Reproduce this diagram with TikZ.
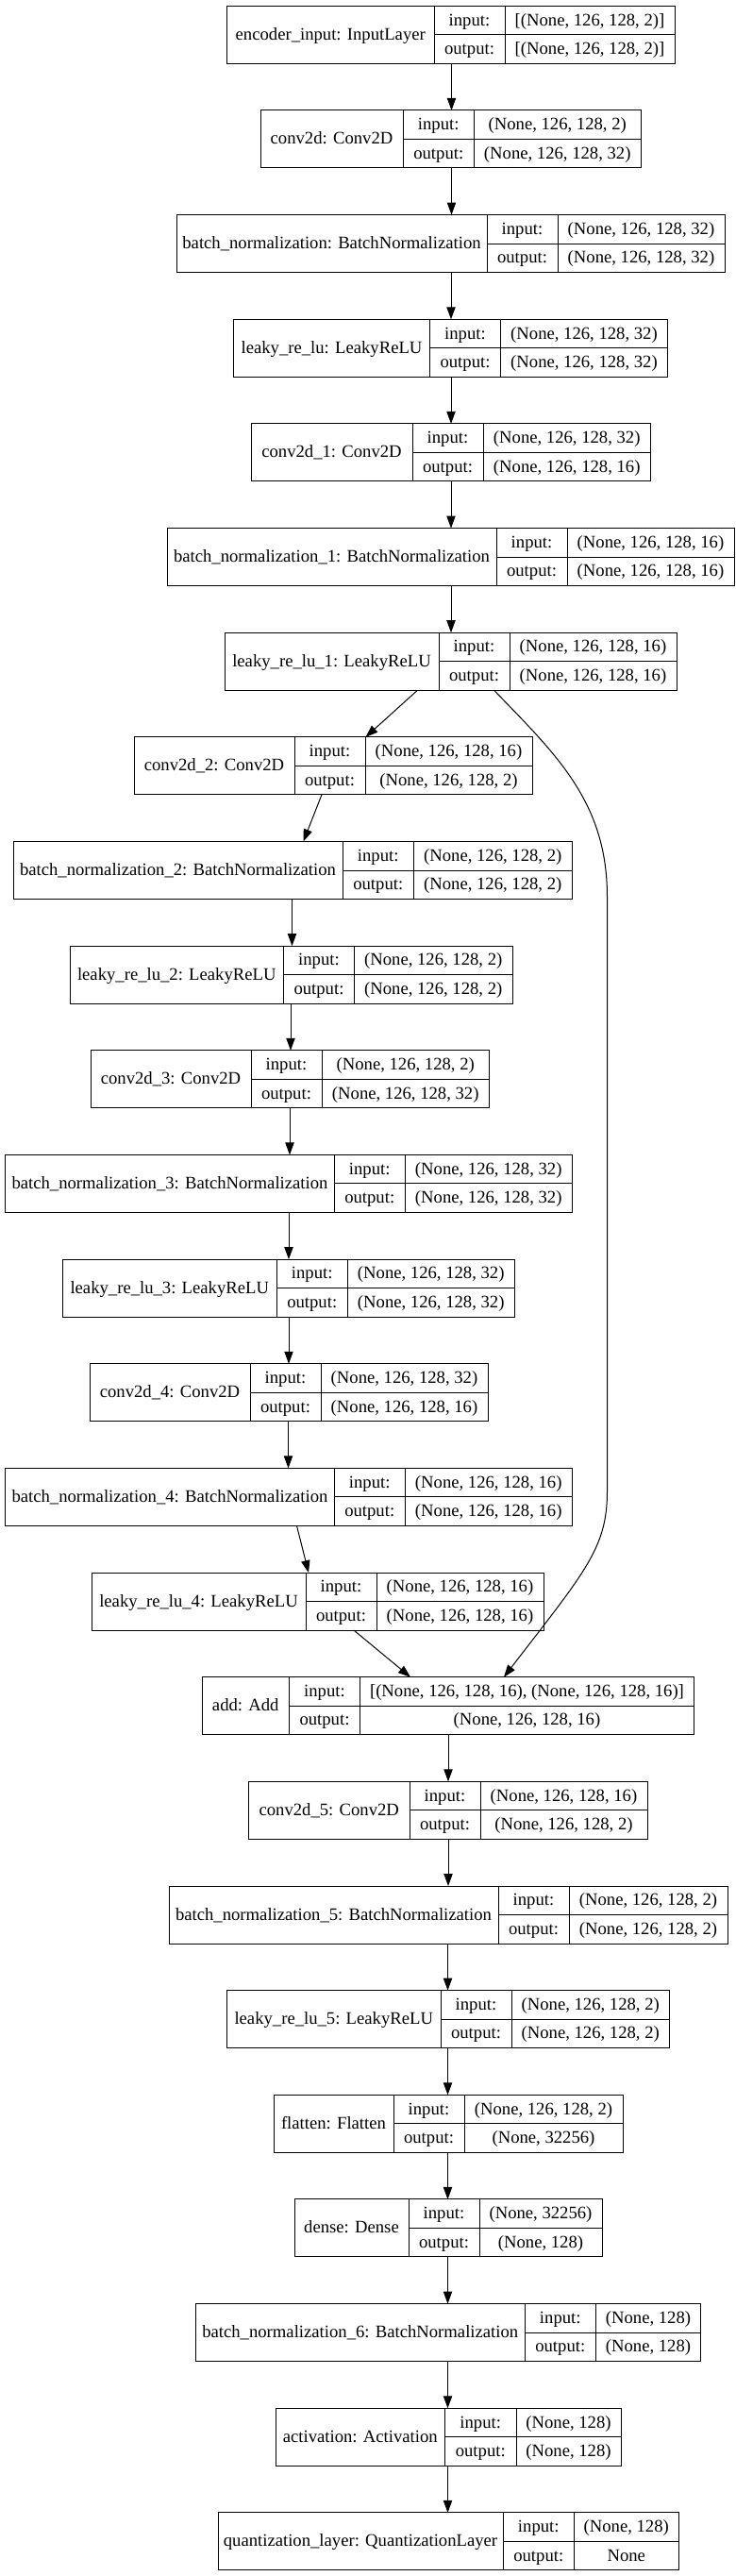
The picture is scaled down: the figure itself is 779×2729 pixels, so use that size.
\documentclass[tikz,border=0pt]{standalone}
\usepackage{fontspec}
\setmainfont{Liberation Serif}
\usetikzlibrary{arrows.meta,calc}
\tikzset{
  box/.style={draw, line width=1pt, inner sep=0pt, outer sep=0pt, minimum height=61pt, rectangle},
  sep/.style={line width=1pt},
  lbl/.style={inner sep=0pt, anchor=base, font=\fontsize{18.67}{20}\selectfont},
  arr/.style={line width=1pt, -{Triangle[length=13pt,width=9.3pt]}},
}
\newcommand\mylayer[8]{%
  \pgfmathsetmacro\lyT{6.3+110.65*(#1-1)}%
  \pgfmathsetmacro\lyB{\lyT+61}%
  \pgfmathsetmacro\lyM{\lyT+30.5}%
  \pgfmathsetmacro\lyW{#5-#2}%
  \pgfmathsetmacro\lyNx{(#2+#3)/2}%
  \pgfmathsetmacro\lyIx{(#3+#4)/2}%
  \pgfmathsetmacro\lyVx{(#4+#5)/2}%
  \pgfmathsetmacro\lyRa{\lyT+15.25+5.5}%
  \pgfmathsetmacro\lyRb{\lyT+45.75+5.5}%
  \pgfmathsetmacro\lyRn{\lyT+30.5+5.5}%
  \expandafter\xdef\csname lx#1\endcsname{#2}%
  \node[box, minimum width=\lyW pt, anchor=north west] (L#1) at (#2,\lyT) {};
  \draw[sep] (#3,\lyT) -- (#3,\lyB);
  \draw[sep] (#4,\lyT) -- (#4,\lyB);
  \draw[sep] (#3,\lyM) -- (#5,\lyM);
  \node[lbl] (L#1n) at (\lyNx,\lyRn) {#6};
  \node[lbl] (L#1i) at (\lyIx,\lyRa) {input:};
  \node[lbl] (L#1o) at (\lyIx,\lyRb) {output:};
  \node[lbl] (L#1a) at (\lyVx,\lyRa) {#7};
  \node[lbl] (L#1b) at (\lyVx,\lyRb) {#8};
}
\newcommand\myedge[4]{%
  \draw[arr] ($(L#1.south west)+({#2-\csname lx#1\endcsname},0)$) -- ($(L#3.north west)+({#4-\csname lx#3\endcsname},0)$);
}
\begin{document}
\begin{tikzpicture}[x=1pt,y=-1pt]
\useasboundingbox (0,0) rectangle (779,2729);
\mylayer{1}{240.5}{460}{535}{715}{encoder\_input: InputLayer}{[(None, 126, 128, 2)]}{[(None, 126, 128, 2)]}
\mylayer{2}{276}{427}{502.5}{679}{conv2d: Conv2D}{(None, 126, 128, 2)}{(None, 126, 128, 32)}
\mylayer{3}{187}{516}{591}{768}{batch\_normalization: BatchNormalization}{(None, 126, 128, 32)}{(None, 126, 128, 32)}
\mylayer{4}{247.5}{455.5}{530.5}{707.5}{leaky\_re\_lu: LeakyReLU}{(None, 126, 128, 32)}{(None, 126, 128, 32)}
\mylayer{5}{266}{437}{512}{689.5}{conv2d\_1: Conv2D}{(None, 126, 128, 32)}{(None, 126, 128, 16)}
\mylayer{6}{177}{526}{601}{778}{batch\_normalization\_1: BatchNormalization}{(None, 126, 128, 16)}{(None, 126, 128, 16)}
\mylayer{7}{238}{465}{540}{717}{leaky\_re\_lu\_1: LeakyReLU}{(None, 126, 128, 16)}{(None, 126, 128, 16)}
\mylayer{8}{142}{312}{387}{564}{conv2d\_2: Conv2D}{(None, 126, 128, 16)}{(None, 126, 128, 2)}
\mylayer{9}{14}{363}{438.5}{606}{batch\_normalization\_2: BatchNormalization}{(None, 126, 128, 2)}{(None, 126, 128, 2)}
\mylayer{10}{74}{300.5}{375.5}{543}{leaky\_re\_lu\_2: LeakyReLU}{(None, 126, 128, 2)}{(None, 126, 128, 2)}
\mylayer{11}{96}{266}{341}{518.5}{conv2d\_3: Conv2D}{(None, 126, 128, 2)}{(None, 126, 128, 32)}
\mylayer{12}{5.5}{354.5}{429}{606.5}{batch\_normalization\_3: BatchNormalization}{(None, 126, 128, 32)}{(None, 126, 128, 32)}
\mylayer{13}{66.5}{293}{368.5}{545}{leaky\_re\_lu\_3: LeakyReLU}{(None, 126, 128, 32)}{(None, 126, 128, 32)}
\mylayer{14}{95}{265}{340}{517}{conv2d\_4: Conv2D}{(None, 126, 128, 32)}{(None, 126, 128, 16)}
\mylayer{15}{5.5}{354.5}{429}{606.5}{batch\_normalization\_4: BatchNormalization}{(None, 126, 128, 16)}{(None, 126, 128, 16)}
\mylayer{16}{97}{324}{399}{576}{leaky\_re\_lu\_4: LeakyReLU}{(None, 126, 128, 16)}{(None, 126, 128, 16)}
\mylayer{17}{214}{306.5}{381.5}{735.5}{add: Add}{[(None, 126, 128, 16), (None, 126, 128, 16)]}{(None, 126, 128, 16)}
\mylayer{18}{263.5}{434}{509}{686}{conv2d\_5: Conv2D}{(None, 126, 128, 16)}{(None, 126, 128, 2)}
\mylayer{19}{179}{528}{603}{771}{batch\_normalization\_5: BatchNormalization}{(None, 126, 128, 2)}{(None, 126, 128, 2)}
\mylayer{20}{240.5}{467}{542}{709.5}{leaky\_re\_lu\_5: LeakyReLU}{(None, 126, 128, 2)}{(None, 126, 128, 2)}
\mylayer{21}{290}{417}{492}{660}{flatten: Flatten}{(None, 126, 128, 2)}{(None, 32256)}
\mylayer{22}{312}{433}{508}{638}{dense: Dense}{(None, 32256)}{(None, 128)}
\mylayer{23}{207.5}{556}{631.5}{742.5}{batch\_normalization\_6: BatchNormalization}{(None, 128)}{(None, 128)}
\mylayer{24}{292}{471.5}{547}{658}{activation: Activation}{(None, 128)}{(None, 128)}
\mylayer{25}{231}{533}{608.5}{719}{quantization\_layer: QuantizationLayer}{(None, 128)}{None}
% connectors
\myedge{1}{478.5}{2}{478.5}
\myedge{2}{478.5}{3}{478.5}
\myedge{3}{478}{4}{478}
\myedge{4}{478}{5}{478}
\myedge{5}{478}{6}{478}
\myedge{6}{478}{7}{478}
\myedge{7}{442.5}{8}{387.5}
\myedge{8}{341}{9}{321.5}
\myedge{9}{309.5}{10}{309.5}
\myedge{10}{308}{11}{308}
\myedge{11}{307}{12}{307}
\myedge{12}{306}{13}{306}
\myedge{13}{306}{14}{306}
\myedge{14}{305.5}{15}{305.5}
\myedge{15}{314.5}{16}{327}
\myedge{16}{375}{17}{435}
\myedge{17}{475}{18}{475}
\myedge{18}{475}{19}{475}
\myedge{19}{474.5}{20}{474.5}
\myedge{20}{474.5}{21}{474.5}
\myedge{21}{474.5}{22}{474.5}
\myedge{22}{474.5}{23}{474.5}
\myedge{23}{474.5}{24}{474.5}
\myedge{24}{474.5}{25}{474.5}
\coordinate (sa) at ($(L7.south west)+(285.5,0)$);
\coordinate (sb) at ($(L17.north west)+(320,0)$);
\draw[arr] (sa) .. controls (590,800) and (643.5,850) .. (643.5,950) -- (643.5,1580) .. controls (643.5,1640) and (620,1665) .. (sb);
\end{tikzpicture}
\end{document}
